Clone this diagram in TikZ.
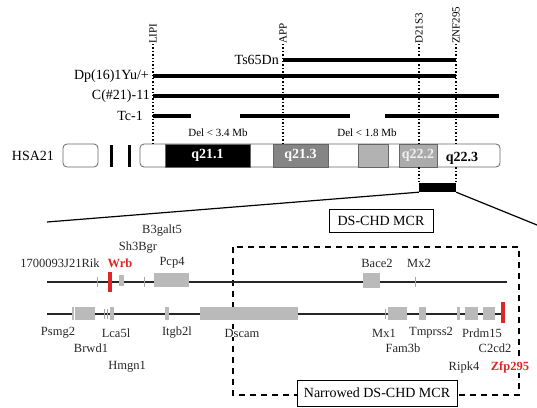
\documentclass[tikz,border=0pt]{standalone}
\usepackage{fontspec}
\setmainfont{Liberation Serif}
\usetikzlibrary{positioning}
\definecolor{markred}{RGB}{222,38,38}

\begin{document}
\begin{tikzpicture}[x=1pt,y=-1pt,font=\fontsize{14}{16}\selectfont,
  strain/.style={anchor=east,inner sep=0pt},
  bar/.style={line width=4pt},
  marker/.style={dotted,line width=1.4pt},
  mlabel/.style={rotate=90,anchor=west,inner sep=0pt,font=\fontsize{11}{12}\selectfont},
  band/.style={draw=black!60,line width=0.6pt,minimum height=23pt,inner sep=0pt,font=\fontsize{14}{16}\selectfont\bfseries},
  gene/.style={fill=black!27,inner sep=0pt},
  redgene/.style={fill=markred,inner sep=0pt,minimum width=4pt,minimum height=20pt},
  tick/.style={draw=black!35,line width=0.9pt},
  glabel/.style={inner sep=0pt,text=black!85,font=\fontsize{12.5}{14}\selectfont},
  track/.style={line width=1.4pt,black!85},
  mcrbox/.style={draw,line width=0.9pt,minimum height=23pt,inner xsep=6pt}]
\useasboundingbox (0,0) rectangle (537,407);

\node[mlabel] (lipi) at (153,44) {LIPI};
\node[mlabel] (app) at (283,44) {APP};
\node[mlabel] (d21) at (419,44) {D21S3};
\node[mlabel] (znf) at (456,44) {ZNF295};

\node[strain] (ts) at (279,60) {Ts65Dn};
\node[strain] (dp) at (149,76) {Dp(16)1Yu/+};
\node[strain] (c21) at (150,96) {C(\#21)-11};
\node[strain] (tc) at (143,116) {Tc-1};
\draw[bar] (app.west |- ts) -- (znf.west |- ts);
\draw[bar] (lipi.west |- dp) -- (znf.west |- dp);
\draw[bar] (lipi.west |- c21) -- (499,96);
\draw[bar] (lipi.west |- tc) -- (191,116);
\draw[bar] (240,116) -- (350,116);
\draw[bar] (385,116) -- (499,116);
\node[font=\fontsize{11}{12}\selectfont] (del1) at (218,133) {Del < 3.4 Mb};
\node[font=\fontsize{11}{12}\selectfont] (del2) at (367,133) {Del < 1.8 Mb};

\node (hsa) at (33,156) {HSA21};
\node[draw=black!60,line width=0.8pt,rounded corners=4pt,minimum width=35pt,minimum height=23pt] (arm) at (80.5,155.5) {};
\fill (110,145) rectangle (113,167);
\fill (128,145) rectangle (131,167);
\node[draw=black!60,line width=0.8pt,rounded corners=4pt,minimum width=360pt,minimum height=23pt] (chr) at (320,155.5) {};
\node[band,fill=black,text=white,minimum width=85pt] (q211) at (207.5,155.5) {q21.1};
\node[band,fill=black!48,text=white,minimum width=55pt] (q213) at (300.5,155.5) {q21.3};
\node[band,fill=black!30,minimum width=30pt] (q22) at (373,155.5) {};
\node[band,fill=black!33,text=black!6,minimum width=38pt] (q222) at (418,155.5) {q22.2};
\node[inner sep=0pt,font=\fontsize{14}{16}\selectfont\bfseries] (q223) at (462,158) {q22.3};

\draw[marker] (lipi.west) -- (lipi.west |- chr.north);
\draw[marker] (app.west) -- (app.west |- q213.north);
\draw[marker] (d21.west) -- (d21.west |- chr.north);
\draw[marker] (znf.west) -- (znf.west |- chr.north);

\node[fill=black,inner sep=0pt,minimum width=37pt,minimum height=9pt] (mcr) at (437.5,187.5) {};
\draw[marker] (d21.west |- chr.south) -- (d21.west |- mcr.north);
\draw[marker] (znf.west |- chr.south) -- (znf.west |- mcr.north);
\coordinate (zl) at (47,222);
\coordinate (zr) at (537,225);
\draw[line width=1.2pt] (mcr.south west) -- (zl);
\draw[line width=1.2pt] (mcr.south east) -- (zr);

\node[mcrbox,minimum width=104pt] (ds) at (381,220.5) {DS-CHD MCR};
\draw[line width=1.6pt,dash pattern=on 6pt off 5pt] (233,247) rectangle (519,395);

\coordinate (t1a) at (47,282);
\coordinate (t1b) at (507,282);
\draw[track] (t1a) -- (t1b);
\foreach \x in {97,144,415}
  \draw[tick] (\x,277) -- (\x,287);
\node[redgene] (wrb) at (110,282) {};
\node[gene,minimum width=5pt,minimum height=11pt] (sh3) at (121.5,280) {};
\node[gene,minimum width=35pt,minimum height=14pt] (pcp4) at (171.5,280) {};
\node[gene,minimum width=17pt,minimum height=15pt] (bace2) at (371.5,280.5) {};

\node[glabel] (l1700) at (60,263) {1700093J21Rik};
\node[glabel,text=markred,font=\fontsize{12.5}{14}\selectfont\bfseries] (lwrb) at (120,263) {Wrb};
\node[glabel] (lsh3) at (138,248) {Sh3Bgr};
\node[glabel] (lb3) at (162,231) {B3galt5};
\node[glabel] (lpcp4) at (172,263) {Pcp4};
\node[glabel] (lbace2) at (377,263) {Bace2};
\node[glabel] (lmx2) at (419,263) {Mx2};

\coordinate (t2a) at (47,314);
\coordinate (t2b) at (503,314);
\draw[track] (t2a) -- (t2b);
\foreach \x in {104,107,385}
  \draw[tick] (\x,309) -- (\x,319);
\node[gene,minimum width=23pt,minimum height=13pt] (psmg2) at (83.5,313.5) {};
\draw[white,line width=0.6pt] (74.5,307) -- (74.5,320);
\node[gene,minimum width=4pt,minimum height=13pt] (lca5l) at (112,313.5) {};
\node[gene,minimum width=4pt,minimum height=13pt] (itgb2l) at (167,313.5) {};
\node[gene,minimum width=98pt,minimum height=13pt] (dscam) at (249,313.5) {};
\node[gene,minimum width=19pt,minimum height=13pt] (mx1) at (397.5,313.5) {};
\node[gene,minimum width=7pt,minimum height=13pt] (tmprss2) at (422.5,313.5) {};
\node[gene,minimum width=3pt,minimum height=13pt] (ripk4) at (458.5,313.5) {};
\node[gene,minimum width=13pt,minimum height=13pt] (prdm15) at (471.5,313.5) {};
\node[gene,minimum width=12pt,minimum height=13pt] (c2cd2) at (489,313.5) {};
\node[redgene,minimum height=21pt] (zfp) at (503,312.5) {};

\node[glabel] (lpsmg2) at (58,333) {Psmg2};
\node[glabel] (lbrwd1) at (91,348) {Brwd1};
\node[glabel] (llca5l) at (116,333) {Lca5l};
\node[glabel] (lhmgn1) at (127,367) {Hmgn1};
\node[glabel] (litgb2l) at (177,333) {Itgb2l};
\node[glabel,fill=white,inner xsep=1pt] (ldscam) at (242,333) {Dscam};
\node[glabel] (lmx1) at (384,333) {Mx1};
\node[glabel] (ltmprss2) at (431,333) {Tmprss2};
\node[glabel] (lprdm15) at (482,333) {Prdm15};
\node[glabel] (lfam3b) at (403,348) {Fam3b};
\node[glabel] (lc2cd2) at (495,348) {C2cd2};
\node[glabel] (lripk4) at (464,367) {Ripk4};
\node[glabel,fill=white,inner xsep=1pt,text=markred,font=\fontsize{12.5}{14}\selectfont\bfseries] (lzfp) at (510,367) {Zfp295};

\node[mcrbox,fill=white,minimum width=160pt,minimum height=26pt] (narrow) at (377,393) {Narrowed DS-CHD MCR};
\end{tikzpicture}
\end{document}
